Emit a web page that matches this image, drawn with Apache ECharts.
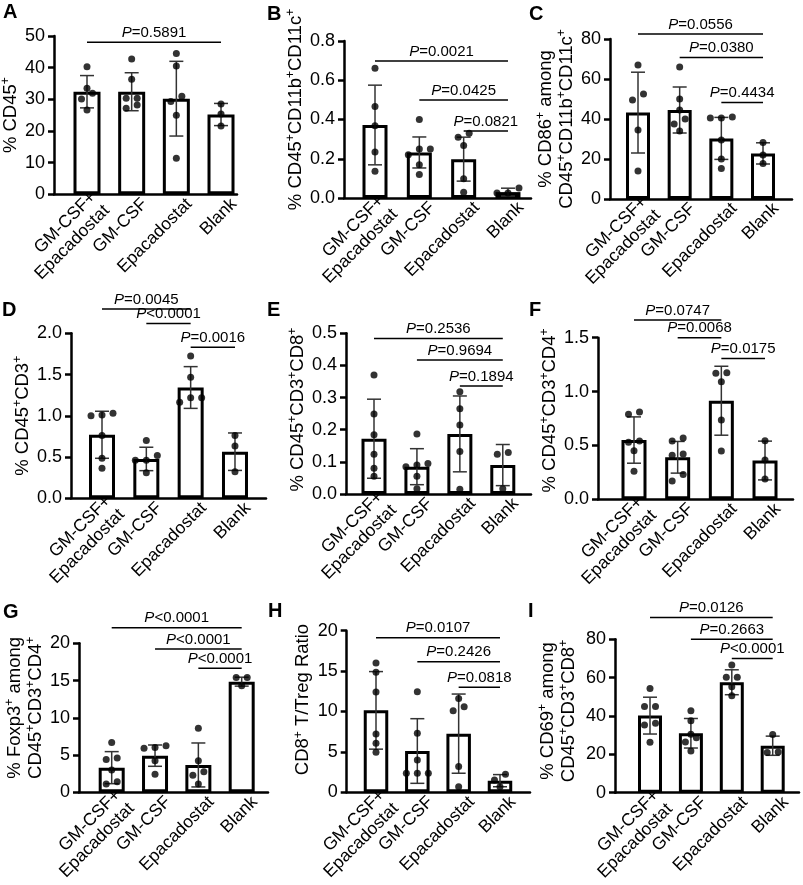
<!DOCTYPE html>
<html>
<head>
<meta charset="utf-8">
<script src="https://cdn.jsdelivr.net/npm/echarts@6/dist/echarts.min.js"></script>
<style>
  html, body { margin: 0; padding: 0; background: #fff; }
  #chart { width: 803px; height: 885px; }
</style>
</head>
<body>
<div id="chart"></div>
<script>
const FONT = '"Liberation Sans", Arial, Helvetica, sans-serif';

const categories = ['GM-CSF+\nEpacadostat', 'GM-CSF', 'Epacadostat', 'Blank'];
const letters = ['A', 'B', 'C', 'D', 'E', 'F', 'G', 'H', 'I'];
const yTitles = [
  '% CD45{s|+}',
  '% CD45{s|+}CD11b{s|+}CD11c{s|+}',
  '% CD86{s|+} among\nCD45{s|+}CD11b{s|+}CD11c{s|+}',
  '% CD45{s|+}CD3{s|+}',
  '% CD45{s|+}CD3{s|+}CD8{s|+}',
  '% CD45{s|+}CD3{s|+}CD4{s|+}',
  '% Foxp3{s|+} among\nCD45{s|+}CD3{s|+}CD4{s|+}',
  'CD8{s|+} T/Treg Ratio',
  '% CD69{s|+} among\nCD45{s|+}CD3{s|+}CD8{s|+}'
];
// y axis ranges and tick labels
const yMax  = [50, 0.8, 80, 2, 0.5, 1.5, 20, 20, 80];
const yStep = [10, 0.2, 20, 0.5, 0.1, 0.5, 5, 5, 20];
const yDec  = [0, 1, 0, 1, 1, 1, 0, 0, 0];

// bar = mean, whisker = SD, dots = animals, sig = [from, to, height, p text]
const meanA = [32.4, 32.4, 30.2, 25.2];
const sdA   = [5.1, 6.0, 11.8, 3.5];
const ptsA  = [[40.3, 33.5, 31.9, 30.1, 26.6], [42.7, 36.3, 30.3, 30.3, 28.2, 27.2], [44.5, 40.5, 31, 29.3, 25, 11.4], [28.5, 25.4, 21.6]];
const sigA  = [[0, 3, 48, '=0.5891']];

const meanB = [0.372, 0.232, 0.198, 0.03];
const sdB   = [0.203, 0.079, 0.112, 0.02];
const ptsB  = [[0.661, 0.466, 0.368, 0.234, 0.136], [0.40, 0.25, 0.25, 0.22, 0.17, 0.12], [0.33, 0.31, 0.268, 0.098, 0.029], [0.051, 0.025, 0.025]];
const sigB  = [[0, 3, 0.698, '=0.0021'], [1, 3, 0.5, '=0.0425'], [2, 3, 0.342, '=0.0821']];

const meanC = [43.2, 44.5, 30.3, 22.8];
const sdC   = [20.2, 11.5, 10.5, 5.3];
const ptsC  = [[67, 52.5, 49.5, 34.5, 14], [66, 50, 44.5, 40, 37.5, 34], [41, 40.5, 40.5, 29.5, 20, 15.3], [28.2, 22, 17.8]];
const sigC  = [[0, 3, 82.5, '=0.0556'], [1, 3, 70.8, '=0.0380'], [2, 3, 48.2, '=0.4434']];

const meanD = [0.77, 0.477, 1.343, 0.565];
const sdD   = [0.285, 0.142, 0.253, 0.227];
const ptsD  = [[1.03, 1.01, 1.0, 0.76, 0.485, 0.364], [0.70, 0.52, 0.46, 0.46, 0.31], [1.725, 1.467, 1.22, 1.22, 1.164], [0.76, 0.634, 0.323]];
const sigD  = [[0, 2, 2.295, '=0.0045'], [1, 2, 2.12, '<0.0001'], [2, 3, 1.83, '=0.0016']];

const meanE = [0.172, 0.085, 0.187, 0.09];
const sdE   = [0.123, 0.056, 0.118, 0.064];
const ptsE  = [[0.37, 0.249, 0.184, 0.124, 0.08, 0.055], [0.187, 0.095, 0.09, 0.085, 0.055, 0.016], [0.318, 0.265, 0.215, 0.132, 0.015], [0.129, 0.124, 0.016]];
const sigE  = [[0, 3, 0.484, '=0.2536'], [1, 3, 0.417, '=0.9694'], [2, 3, 0.336, '=0.1894']];

const meanF = [0.55, 0.39, 0.915, 0.36];
const sdF   = [0.215, 0.147, 0.32, 0.18];
const ptsF  = [[0.81, 0.79, 0.54, 0.53, 0.45, 0.26], [0.57, 0.54, 0.42, 0.41, 0.23, 0.17], [1.175, 1.17, 1.09, 0.736, 0.449], [0.544, 0.365, 0.189]];
const sigF  = [[0, 2, 1.664, '=0.0747'], [1, 2, 1.5, '=0.0068'], [2, 3, 1.308, '=0.0175']];

const meanG = [3.31, 4.92, 3.67, 14.85];
const sdG   = [2.15, 1.43, 2.95, 0.6];
const ptsG  = [[6.7, 4.6, 4.4, 3.0, 1.4, 1.1], [6.26, 6.0, 5.9, 4.25, 2.42], [8.6, 4.25, 2.77, 2.3, 1.12], [15.4, 15.4, 14.3]];
const sigG  = [[0, 3, 22.1, '<0.0001'], [1, 3, 19.24, '<0.0001'], [2, 3, 16.64, '<0.0001']];

const meanH = [10.14, 5.11, 7.26, 1.44];
const sdH   = [4.8, 4.0, 4.9, 0.75];
const ptsH  = [[16.0, 14.85, 12.4, 7.2, 6.06, 4.95], [12.45, 7.3, 4.0, 2.35, 2.35, 2.35], [11.6, 10.6, 10.1, 3.2, 0.7], [2.23, 1.53, 0.7]];
const sigH  = [[0, 3, 19.13, '=0.0107'], [1, 3, 16.16, '=0.2426'], [2, 3, 13.0, '=0.0818']];

const meanI = [40.2, 31.0, 57.6, 24.5];
const sdI   = [9.6, 7.7, 6.5, 5.0];
const ptsI  = [[54.4, 44.9, 44.9, 36.2, 35.3, 26.3], [42.8, 37.5, 30.5, 28.7, 26.5, 21.7], [66.6, 60.2, 60.2, 55.3, 50.6], [30.4, 21.2, 21.0]];
const sigI  = [[0, 3, 91.4, '=0.0126'], [1, 3, 80.0, '=0.2663'], [2, 3, 70.0, '<0.0001']];

const panels = [
  {mean: meanA, sd: sdA, pts: ptsA, sig: sigA},
  {mean: meanB, sd: sdB, pts: ptsB, sig: sigB},
  {mean: meanC, sd: sdC, pts: ptsC, sig: sigC},
  {mean: meanD, sd: sdD, pts: ptsD, sig: sigD},
  {mean: meanE, sd: sdE, pts: ptsE, sig: sigE},
  {mean: meanF, sd: sdF, pts: ptsF, sig: sigF},
  {mean: meanG, sd: sdG, pts: ptsG, sig: sigG},
  {mean: meanH, sd: sdH, pts: ptsH, sig: sigH},
  {mean: meanI, sd: sdI, pts: ptsI, sig: sigI}
];

// x0 = y axis, x1 = end of x axis, c0 = first bar centre, s = bar spacing (px)
const layout = [
  {x0: 54,    x1: 237, c0: 87,    s: 44.67, top: 36,    bottom: 194.3, bw: 27,   gap: 33, lift: 0,  lx: 3,   ly: 2},
  {x0: 344,   x1: 531, c0: 375,   s: 44.33, top: 41,    bottom: 198,   bw: 25,   gap: 33, lift: 10, lx: 267, ly: 4},
  {x0: 610,   x1: 792, c0: 638,   s: 41.67, top: 39,    bottom: 199,   bw: 24,   gap: 32, lift: 0,  lx: 529, ly: 4},
  {x0: 71,    x1: 266, c0: 102,   s: 44.33, top: 333.3, bottom: 498.3, bw: 26,   gap: 38, lift: 0,  lx: 2,   ly: 300},
  {x0: 346,   x1: 531, c0: 374,   s: 42.93, top: 333.3, bottom: 494,   bw: 25,   gap: 37, lift: 4,  lx: 267, ly: 300},
  {x0: 598,   x1: 793, c0: 634,   s: 43.67, top: 337.7, bottom: 499.3, bw: 25,   gap: 27, lift: 8,  lx: 529, ly: 300},
  {x0: 79,    x1: 268, c0: 111.7, s: 43.33, top: 643.3, bottom: 792.3, bw: 26,   gap: 31, lift: 10, lx: 3,   ly: 602},
  {x0: 346.7, x1: 530, c0: 376,   s: 41.33, top: 630.7, bottom: 792.3, bw: 24.5, gap: 31, lift: 12, lx: 268, ly: 601},
  {x0: 615,   x1: 799, c0: 650,   s: 40.9,  top: 639.3, bottom: 792.7, bw: 24,   gap: 36, lift: 5,  lx: 528, ly: 601}
];

// spread dots that would overlap into rows, like a scatter dot plot
function swarm(vals, pxPerUnit, spacing) {
  const order = vals.map((v, i) => i).sort((a, b) => vals[a] - vals[b]);
  const offs = vals.map(() => 0);
  let row = [];
  const flush = () => {
    row.forEach((j, r) => { offs[j] = (r - (row.length - 1) / 2) * 11 / spacing; });
    row = [];
  };
  order.forEach(j => {
    if (row.length && (vals[j] - vals[row[0]]) * pxPerUnit > 6.5) flush();
    row.push(j);
  });
  flush();
  return offs;
}

const grids = [], xAxes = [], yAxes = [], series = [], titles = [];

panels.forEach((p, i) => {
  const L = layout[i];
  const pxPerUnit = (L.bottom - L.top) / yMax[i];
  const shift = 13 / L.s;

  titles.push({
    text: letters[i], left: L.lx, top: L.ly, padding: 0,
    textStyle: {fontSize: 20, fontWeight: 'bold', color: '#000', fontFamily: FONT}
  });

  grids.push({
    left: L.x0, top: L.top, width: L.x1 - L.x0, height: L.bottom - L.top,
    containLabel: false, outerBoundsMode: 'none'
  });

  xAxes.push({
    type: 'value', gridIndex: i,
    min: (L.x0 - L.c0) / L.s, max: (L.x1 - L.c0) / L.s,
    axisLine: {show: true, onZero: false, lineStyle: {color: '#000', width: 2.5}},
    axisTick: {show: false},
    splitLine: {show: false},
    axisLabel: {
      customValues: [0, 1, 2, 3].map(k => k + shift),
      formatter: v => categories[Math.round(v - shift)],
      rotate: 45, margin: 7, fontSize: 17.5, lineHeight: 19,
      color: '#000', fontFamily: FONT
    }
  });

  yAxes.push({
    type: 'value', gridIndex: i, min: 0, max: yMax[i], interval: yStep[i],
    axisLine: {show: true, onZero: false, lineStyle: {color: '#000', width: 2.5}},
    axisTick: {show: true, length: 6, lineStyle: {color: '#000', width: 2.5}},
    splitLine: {show: false},
    axisLabel: {
      formatter: v => v.toFixed(yDec[i]),
      fontSize: 18, margin: 9, color: '#000', fontFamily: FONT
    },
    name: yTitles[i], nameLocation: 'middle', nameRotate: 90, nameGap: L.gap,
    nameTextStyle: {
      fontSize: 18.5, lineHeight: 21, color: '#000', fontFamily: FONT,
      padding: [0, 0, 0, 2 * L.lift],
      rich: {s: {fontSize: 12, lineHeight: 12, verticalAlign: 'top', color: '#000', fontFamily: FONT}}
    }
  });

  series.push({
    type: 'bar', xAxisIndex: i, yAxisIndex: i, z: 2, silent: true,
    barWidth: L.bw,
    data: p.mean.map((m, k) => [k, m]),
    itemStyle: {color: '#fff', borderColor: '#000', borderWidth: 3}
  });

  series.push({
    type: 'custom', xAxisIndex: i, yAxisIndex: i, z: 3, silent: true,
    data: p.mean.map((m, k) => [k, m, p.sd[k]]),
    renderItem: (params, api) => {
      const x = api.value(0), m = api.value(1), e = api.value(2);
      const hi = api.coord([x, m + e]), lo = api.coord([x, m - e]);
      const hw = 7, st = {stroke: '#333', lineWidth: 1.5};
      return {
        type: 'group',
        children: [
          {type: 'line', shape: {x1: hi[0], y1: hi[1], x2: lo[0], y2: lo[1]}, style: st},
          {type: 'line', shape: {x1: hi[0] - hw, y1: hi[1], x2: hi[0] + hw, y2: hi[1]}, style: st},
          {type: 'line', shape: {x1: lo[0] - hw, y1: lo[1], x2: lo[0] + hw, y2: lo[1]}, style: st}
        ]
      };
    }
  });

  const dots = [];
  p.pts.forEach((vals, k) => {
    const offs = swarm(vals, pxPerUnit, L.s);
    vals.forEach((v, j) => dots.push([k + offs[j], v]));
  });
  series.push({
    type: 'scatter', xAxisIndex: i, yAxisIndex: i, z: 4, silent: true,
    symbolSize: 7, data: dots, clip: false,
    itemStyle: {color: '#000'}
  });

  series.push({
    type: 'custom', xAxisIndex: i, yAxisIndex: i, z: 5, silent: true, clip: false,
    data: p.sig.map(b => [b[0], b[2], b[1]]),
    renderItem: (params, api) => {
      const b = p.sig[params.dataIndex];
      const a = api.coord([b[0], b[2]]), c = api.coord([b[1], b[2]]);
      return {
        type: 'group',
        children: [
          {type: 'line', shape: {x1: a[0], y1: a[1], x2: c[0], y2: c[1]}, style: {stroke: '#000', lineWidth: 1.5}},
          {type: 'text', x: (a[0] + c[0]) / 2, y: a[1] - 2,
            style: {
              text: '{i|P}' + b[3], fill: '#000', fontSize: 15, fontFamily: FONT,
              align: 'center', verticalAlign: 'bottom',
              rich: {i: {fontStyle: 'italic', fontSize: 15, fontFamily: FONT, fill: '#000'}}
            }}
        ]
      };
    }
  });
});

const chart = echarts.init(document.getElementById('chart'));
chart.setOption({
  animation: false,
  backgroundColor: '#fff',
  textStyle: {fontFamily: FONT},
  title: titles,
  grid: grids,
  xAxis: xAxes,
  yAxis: yAxes,
  series: series
});
</script>
</body>
</html>
